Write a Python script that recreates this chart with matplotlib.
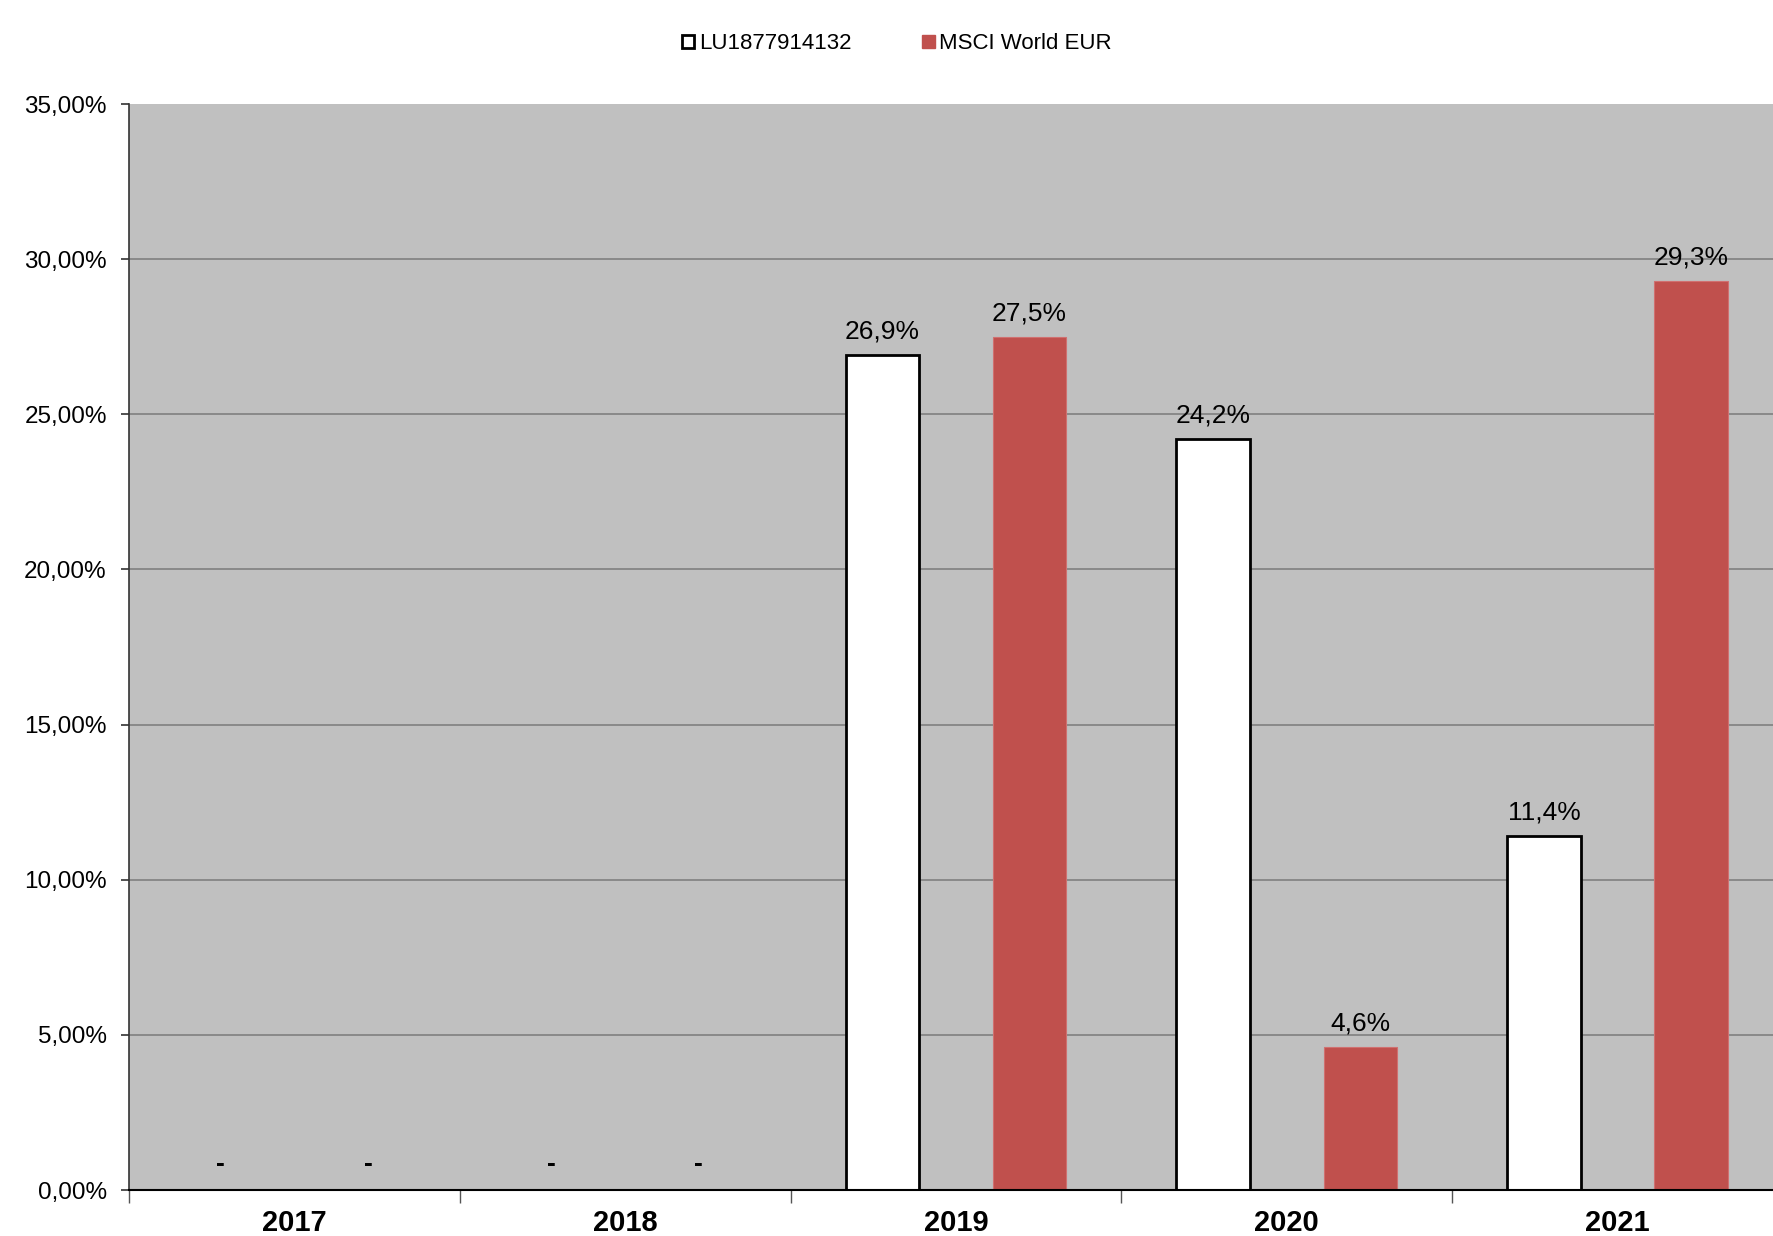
import matplotlib
matplotlib.use("Agg")
import matplotlib.pyplot as plt
from matplotlib.patches import Patch
from matplotlib.ticker import FuncFormatter, FixedLocator
import numpy as np

plt.rcParams['font.family'] = ['Liberation Sans', 'DejaVu Sans']

years = ["2017", "2018", "2019", "2020", "2021"]
fund_name = "LU1877914132"
index_name = "MSCI World EUR"
fund_values = [None, None, 26.9, 24.2, 11.4]
index_values = [None, None, 27.5, 4.6, 29.3]
y_ticks = [0, 5, 10, 15, 20, 25, 30, 35]

fig = plt.figure(figsize=(17.74, 12.36), dpi=100)
ax = fig.add_axes([129/1774, 1 - 1190/1236, (1783 - 129)/1774, (1190 - 104)/1236])
ax.set_facecolor('#C0C0C0')

x = np.arange(len(years)) + 0.5
w = 0.2225
off = 0.2225
red = '#C0504D'

fv = [v if v is not None else 0 for v in fund_values]
iv = [v if v is not None else 0 for v in index_values]

ax.bar(x - off, fv, width=w, color='white', edgecolor='black', linewidth=2, zorder=3)
ax.bar(x + off, iv, width=w, color=red, edgecolor='#D07070', linewidth=0.8, zorder=3)

def put_labels(xs, vals):
    for xi, v in zip(xs, vals):
        if v is None:
            ax.annotate("-", (xi, 0), xytext=(0, 13.5), textcoords='offset points',
                        ha='center', va='baseline', fontsize=19, fontweight='bold',
                        color='black', zorder=5)
        else:
            ax.annotate(f"{v:.1f}%".replace('.', ','), (xi, v), xytext=(0, 12),
                        textcoords='offset points', ha='center', va='baseline',
                        fontsize=19, color='black', zorder=5)

put_labels(x - off, fund_values)
put_labels(x + off, index_values)

ax.set_xlim(0, len(years))
ax.set_ylim(0, 35)
ax.yaxis.set_major_locator(FixedLocator(y_ticks))
ax.yaxis.set_major_formatter(FuncFormatter(lambda v, p: f"{v:.2f}%".replace('.', ',')))
ax.grid(axis='y', color='#858585', linewidth=1.3, zorder=1)
ax.set_axisbelow(True)
gl = ax.get_ygridlines()
gl[-1].set_visible(False)

ax.set_xticks(np.arange(len(years) + 1))
ax.set_xticklabels([])
ax.set_xticks(x, minor=True)
ax.set_xticklabels(years, minor=True, fontsize=21, fontweight='bold',
                   family=['Liberation Sans Narrow', 'Liberation Sans'])
ax.tick_params(axis='x', which='major', direction='out', length=9, width=1, color='#555555')
ax.tick_params(axis='x', which='minor', length=0, pad=14)
ax.tick_params(axis='y', direction='out', length=6, width=1.2, labelsize=17.5, pad=10, color='#333333')

for s in ['top', 'right']:
    ax.spines[s].set_visible(False)
ax.spines['left'].set_color('#333333')
ax.spines['left'].set_linewidth(1.2)
ax.spines['bottom'].set_color('black')
ax.spines['bottom'].set_linewidth(1.5)
ax.spines['bottom'].set_zorder(4)

handles = [Patch(facecolor='white', edgecolor='black', linewidth=2),
           Patch(facecolor=red, edgecolor=red)]
fig.legend(handles, [fund_name, index_name], loc='center', bbox_to_anchor=(0.5056, 0.9645),
           ncol=2, frameon=False, fontsize=16, handlelength=0.55, handleheight=0.55,
           handletextpad=0.2, columnspacing=3.2)

fig.savefig('out.png', dpi=100, facecolor='white')
